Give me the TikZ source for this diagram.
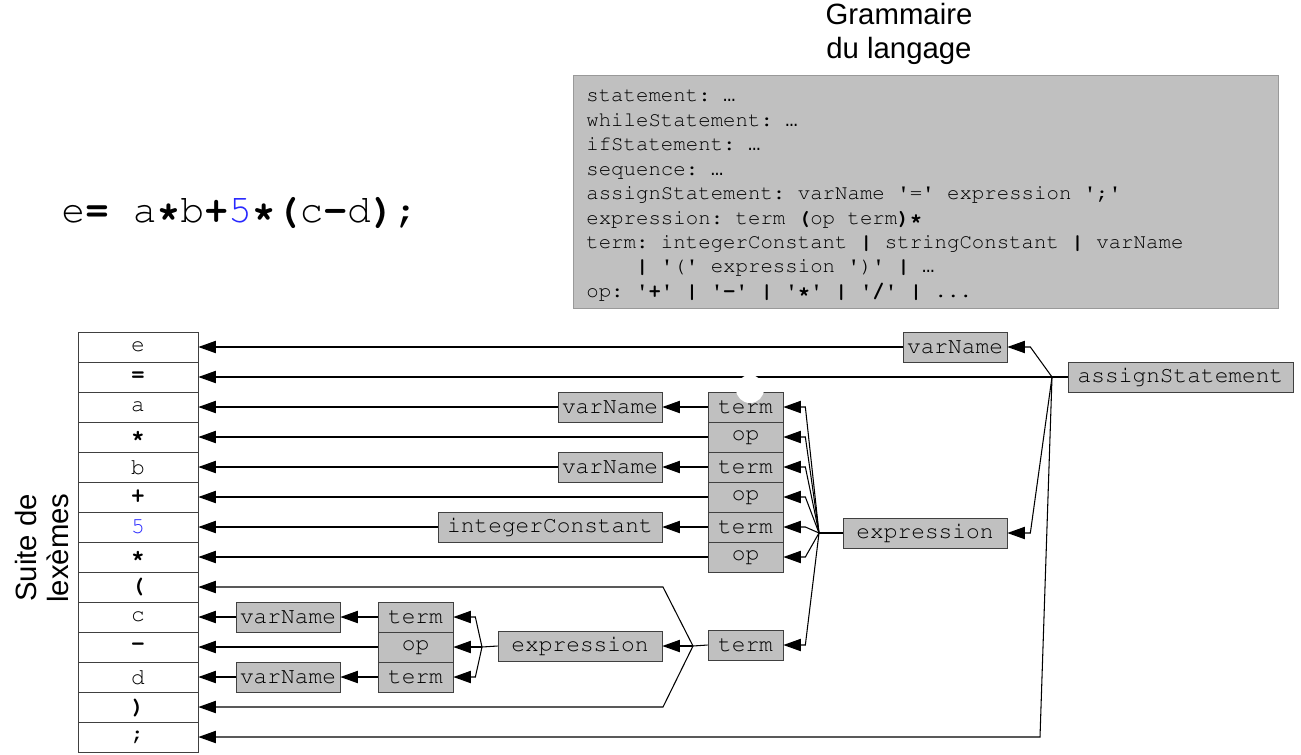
\documentclass[tikz,border=0pt]{standalone}
\usepackage[T1]{fontenc}
\usepackage{fontspec}
\setmainfont{Liberation Serif}
\setsansfont{Liberation Sans}
\setmonofont{Liberation Mono}
\definecolor{BoxGray}{RGB}{192,192,192}
\definecolor{TokBlue}{RGB}{40,40,255}
\newcommand{\courier}{\fontencoding{T1}\fontfamily{pcr}\frenchspacing}
\newcommand{\codefont}{\courier\fontsize{13}{15.6}\selectfont}
\newcommand{\sq}{\textquotesingle}
\newcommand{\ddd}{{\usefont{TU}{\ttdefault}{m}{n}…}}
\usetikzlibrary{arrows.meta, calc}
\tikzset{
    gbox/.style={
        draw=black!75, fill=BoxGray, font=\codefont, inner sep=0pt,
        minimum height=0.6cm, minimum width=#1
    },
    lexcell/.style={
        draw=black!75, fill=white, font=\codefont, inner sep=0pt,
        minimum height=0.6cm, minimum width=2.4cm
    },
    link/.style={line width=0.6pt},
    arr/.style={link, -{Triangle[length=10pt, width=7pt]}},
}

\begin{document}
\begin{tikzpicture}[x=0.02cm, y=-0.02cm]
\useasboundingbox (0,0) rectangle (1301,754);

% Phrase et grammaire
\node[anchor=west, inner sep=0pt, font=\courier\fontsize{22.6}{27}\selectfont] (phrase) at (61,212)
    {e\textbf{=} a\textbf{*}b\textbf{+}\textcolor{TokBlue}{5}\textbf{*(}c\textbf{-}d\textbf{)};};
\node[align=center, font=\sffamily\fontsize{16.7}{19.5}\selectfont] (titre) at (899,34) {Grammaire\\du langage};
\node[draw=black!40, fill=BoxGray, anchor=north west, minimum width=14.1cm, minimum height=4.66cm] (gram) at (573,75) {};
\node[anchor=north west, inner sep=0pt, align=left, font=\courier\fontsize{11.8}{13.9}\selectfont] (regles) at (586,90) {%
statement: \ddd\\
whileStatement: \ddd\\
ifStatement: \ddd\\
sequence: \ddd\\
assignStatement: varName \sq=\sq{} expression \sq;\sq\\
expression: term \textbf{(}op term\textbf{)*}\\
term: integerConstant \textbf{|} stringConstant \textbf{|} varName\\
\phantom{term}\textbf{|} \sq(\sq{} expression \sq)\sq{} \textbf{|} \ddd\\
op: \textbf{\sq+\sq{} | \sq-\sq{} | \sq*\sq{} | \sq/\sq{} |} ...};

% Suite de lexemes
\node[rotate=90, align=center, font=\sffamily\fontsize{16.7}{18.7}\selectfont] (suite) at (42,548) {Suite de\\lexèmes};
\foreach \tok [count=\i from 0] in {e, \textbf{=}, a, \textbf{*}, b, \textbf{+}, \textcolor{TokBlue}{5},
        \textbf{*}, \textbf{(}, c, \textbf{-}, d, \textbf{)}, ;}
    \node[lexcell] (lex-\i) at (138,{347+30*\i}) {\tok};

% Arbre syntaxique
\node[gbox=4.5cm] (assign) at (1180.5,377) {assignStatement};
\node[gbox=2.08cm] (vn-e) at (955,347) {varName};
\node[gbox=3.28cm] (expr) at (925,533) {expression};
\foreach \lab [count=\i] in {term, op, term, op, term, op}
    \node[gbox=1.5cm] (s\i) at (745.5,{377+30*\i}) {\lab};
\node[gbox=1.5cm] (tb) at (745.5,645) {term};
\node[gbox=2.08cm] (va) at (610,407) {varName};
\node[gbox=2.08cm] (vb) at (610,467) {varName};
\node[gbox=4.48cm] (ic) at (550,527) {integerConstant};

\node[gbox=3.28cm] (ie) at (580,646) {expression};
\node[gbox=1.5cm] (it1) at (415.5,617) {term};
\node[gbox=1.5cm] (iop) at (415.5,647) {op};
\node[gbox=1.5cm] (it2) at (415.5,677) {term};
\node[gbox=2.08cm] (vc) at (288,617) {varName};
\node[gbox=2.08cm] (vd) at (288,677) {varName};

\coordinate (jA) at (1052,377);
\coordinate (jA-bas) at (1040,737);
\coordinate (jB) at (819,533);
\coordinate (jC) at (693,646);
\coordinate (jC-haut) at (663,587);
\coordinate (jC-bas) at (663,707);
\coordinate (jD) at (482,647);

% assignStatement
\draw[link] (assign.west) -- (jA);
\draw[arr] (jA) -- ($(vn-e.east)+(23,0)$) -- (vn-e.east);
\draw[arr] (jA) -- (lex-1.east);
\draw[arr] (jA) -- ($(expr.east)+(23,0)$) -- (expr.east);
\draw[arr] (jA) -- (jA-bas) -- (lex-13.east);
\draw[arr] (vn-e.west) -- (lex-0.east);

% expression
\draw[link] (expr.west) -- (jB);
\foreach \n in {s1, s2, s3, s4, s5, s6, tb}
    \draw[arr] (jB) -- ($(\n.east)+(22,0)$) -- (\n.east);
\draw[arr] (s1.west) -- (va.east);
\draw[arr] (va.west) -- (lex-2.east);
\draw[arr] (s2.west) -- (lex-3.east);
\draw[arr] (s3.west) -- (vb.east);
\draw[arr] (vb.west) -- (lex-4.east);
\draw[arr] (s4.west) -- (lex-5.east);
\draw[arr] (s5.west) -- (ic.east);
\draw[arr] (ic.west) -- (lex-6.east);
\draw[arr] (s6.west) -- (lex-7.east);

% term entre parentheses
\draw[link] (tb.west) -- (jC);
\draw[arr] (jC) -- (ie.east);
\draw[arr] (jC) -- (jC-haut) -- (lex-8.east);
\draw[arr] (jC) -- (jC-bas) -- (lex-12.east);
\draw[link] (ie.west) -- (jD);
\foreach \n in {it1, iop, it2}
    \draw[arr] (jD) -- ($(\n.east)+(22,0)$) -- (\n.east);
\draw[arr] (it1.west) -- (vc.east);
\draw[arr] (vc.west) -- (lex-9.east);
\draw[arr] (iop.west) -- (lex-10.east);
\draw[arr] (it2.west) -- (vd.east);
\draw[arr] (vd.west) -- (lex-11.east);

\fill[white] (750,389) circle[radius=0.28cm];
\end{tikzpicture}
\end{document}
